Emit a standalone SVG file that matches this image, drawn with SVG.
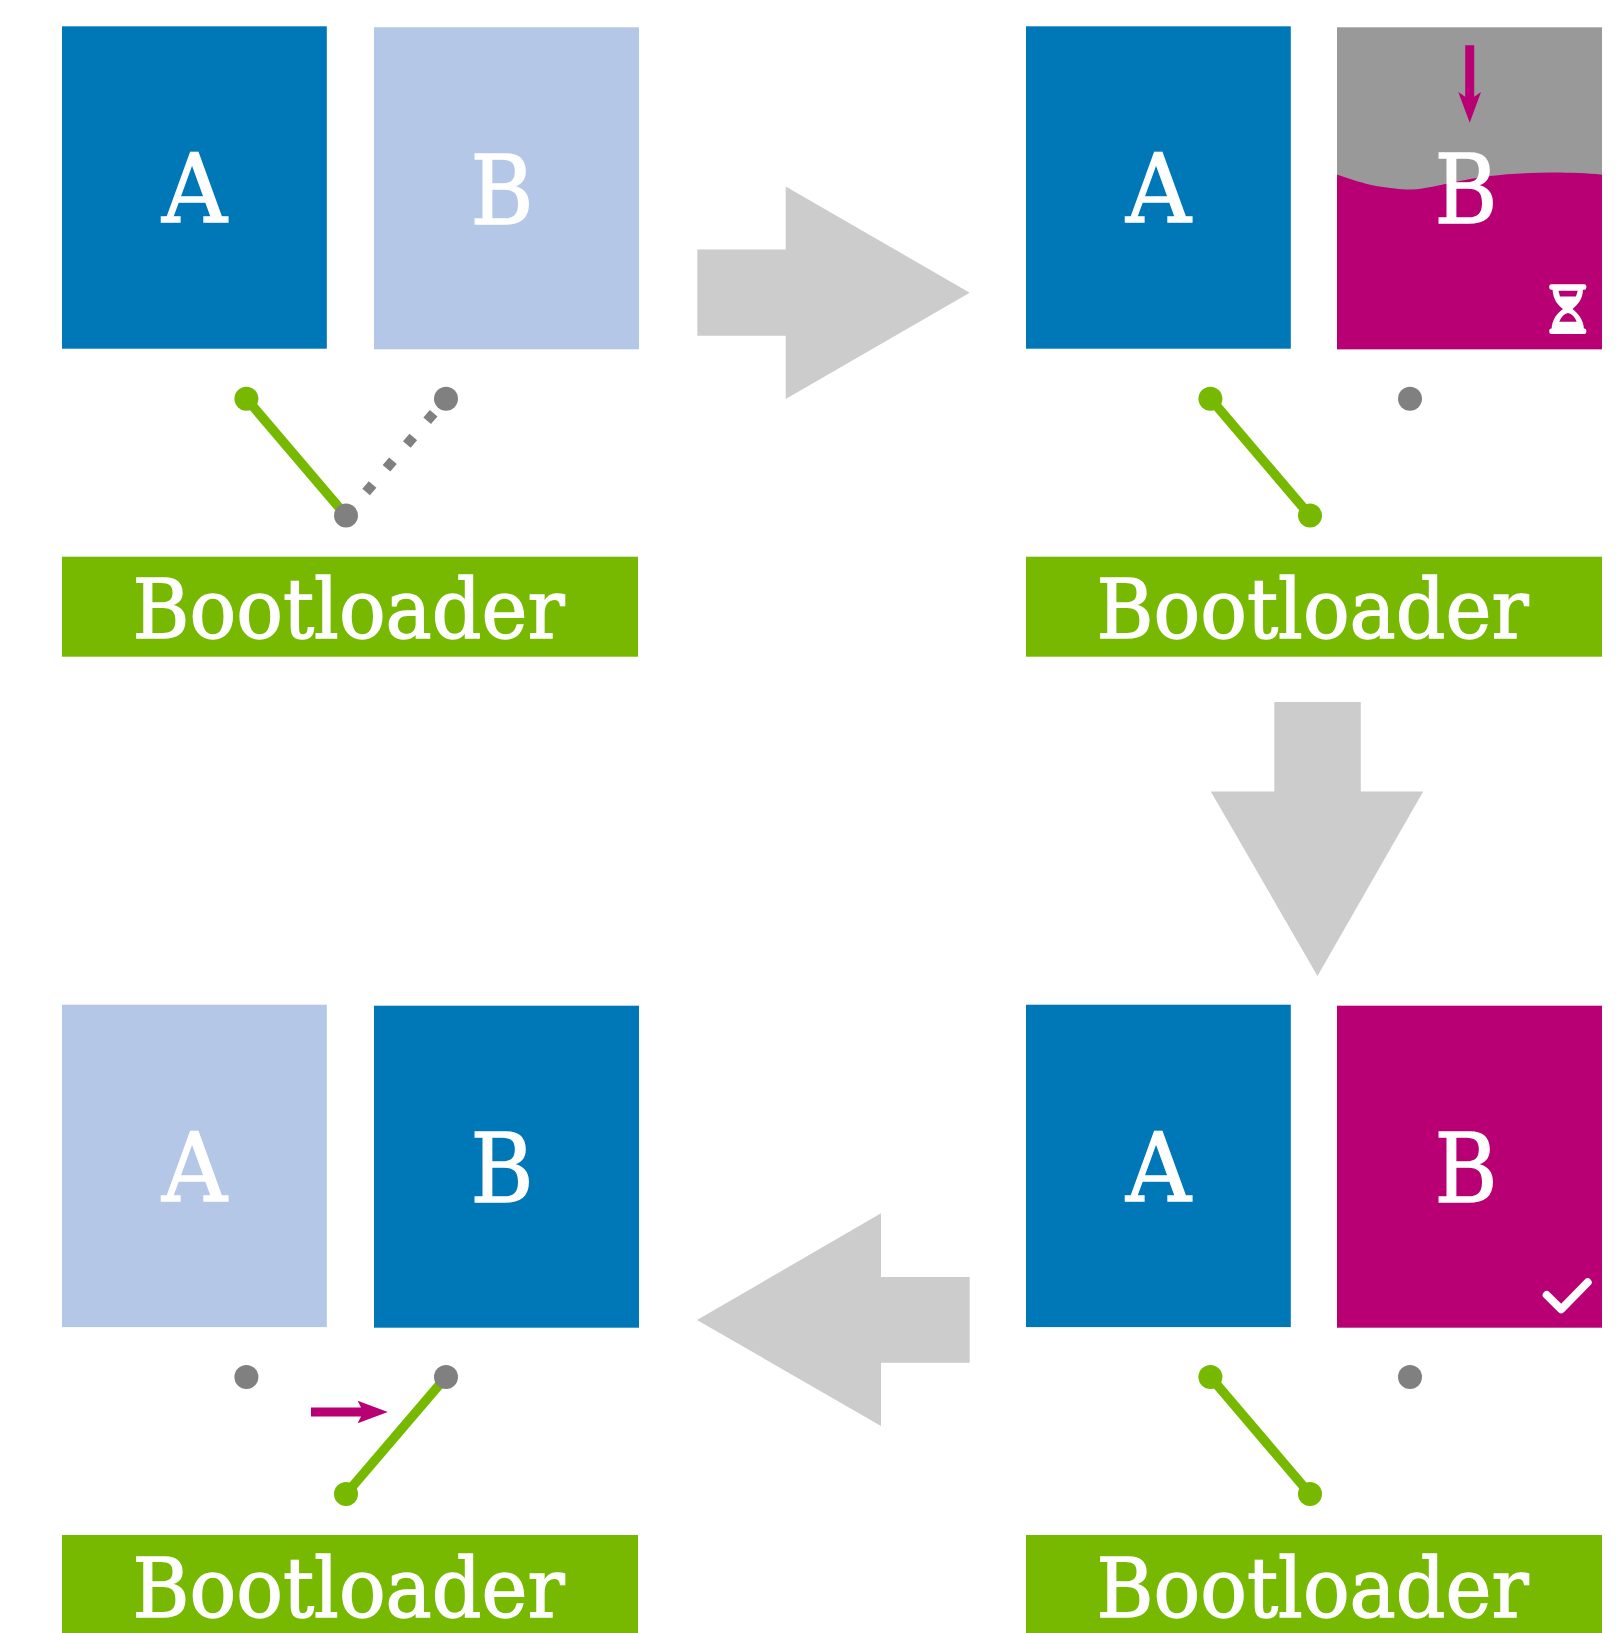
<svg xmlns="http://www.w3.org/2000/svg" width="1623" height="1633" viewBox="0 0 1623 1633">
<style>
.blue{fill:#0078B8}.light{fill:#B4C7E7}.mag{fill:#B80074}.green{fill:#76B900}.gray{fill:#808080}.big{fill:#CCCCCC}
text{font-family:"DejaVu Serif","Liberation Serif",serif;fill:#fff;stroke:#fff;stroke-width:1.4px}
.l{font-size:95px;text-anchor:middle}
.bl{font-size:82px;text-anchor:middle}
.sw{stroke:#76B900;stroke-width:9.5;fill:none}
.dot{stroke:#808080;stroke-width:10;stroke-dasharray:10 21.3;fill:none}
</style>
<rect width="1623" height="1633" fill="#fff"/>
<g id="panel-1">
<g id="p1-a"><rect class="blue" x="62" y="26.3" width="264.8" height="322.4"/><text class="l" x="194.500" y="222.3" textLength="65" lengthAdjust="spacingAndGlyphs">A</text></g>
<g id="p1-b"><rect class="light" x="374" y="27.3" width="265" height="322"/><text class="l" x="502" y="223.6" textLength="63" lengthAdjust="spacingAndGlyphs">B</text></g>
<g id="p1-boot"><rect class="green" x="62" y="556.7" width="576" height="100"/><text class="bl" x="348.500" y="638.4" textLength="432" lengthAdjust="spacingAndGlyphs">Bootloader</text></g>
</g>
<g id="panel-2">
<g id="p2-a"><rect class="blue" x="1026" y="26.3" width="264.8" height="322.4"/><text class="l" x="1158.500" y="222.3" textLength="65" lengthAdjust="spacingAndGlyphs">A</text></g>
<g id="p2-b"><rect fill="#999999" x="1337" y="27.3" width="265" height="322"/><path class="mag" d="M1337 174.7C1352 179 1368 187 1406 189.500C1430 190 1450 181 1490 176C1520 172 1570 171.500 1602 174.700V349.300H1337Z"/><text class="l" x="1466" y="222.7" textLength="63" lengthAdjust="spacingAndGlyphs">B</text>
<path class="mag" d="M1465.200 45.300H1474.200V96.700L1481 92L1469.700 122.700L1458.300 92L1465.200 96.700Z"/>
<g fill="#fff"><rect x="1549.300" y="284.300" width="37" height="5.500" rx="2"/><rect x="1549.300" y="328.500" width="37" height="5.500" rx="2"/><path fill-rule="evenodd" d="M1552.500 289C1553 300 1558 305 1563 309C1558 313 1552 318 1551.500 330H1584C1583.500 318 1577 313 1572.500 309C1577 305 1583 300 1583 289ZM1558.500 290.700H1577.700L1576 296.500H1560ZM1559.300 321.700C1561 317 1564 314 1568 313C1572 314 1575 317 1576.700 321.700Z"/></g></g>
<g id="p2-boot"><rect class="green" x="1026" y="556.7" width="576" height="100"/><text class="bl" x="1312.500" y="638.4" textLength="432" lengthAdjust="spacingAndGlyphs">Bootloader</text></g>
</g>
<g id="panel-3">
<g id="p3-a"><rect class="blue" x="1026" y="1004.7" width="264.8" height="322.4"/><text class="l" x="1158.500" y="1200.7" textLength="65" lengthAdjust="spacingAndGlyphs">A</text></g>
<g id="p3-b"><rect class="mag" x="1337" y="1005.7" width="265" height="322"/><text class="l" x="1466" y="1202" textLength="63" lengthAdjust="spacingAndGlyphs">B</text><polyline points="1546.700,1295 1561.300,1309.300 1587.700,1282.300" fill="none" stroke="#fff" stroke-width="8" stroke-linecap="round" stroke-linejoin="round"/></g>
<g id="p3-boot"><rect class="green" x="1026" y="1535" width="576" height="100"/><text class="bl" x="1312.500" y="1616.800" textLength="432" lengthAdjust="spacingAndGlyphs">Bootloader</text></g>
</g>
<g id="panel-4">
<g id="p4-a"><rect class="light" x="62" y="1004.7" width="264.8" height="322.4"/><text class="l" x="194.500" y="1200.7" textLength="65" lengthAdjust="spacingAndGlyphs">A</text></g>
<g id="p4-b"><rect class="blue" x="374" y="1005.7" width="265" height="322"/><text class="l" x="502" y="1202" textLength="63" lengthAdjust="spacingAndGlyphs">B</text></g>
<g id="p4-boot"><rect class="green" x="62" y="1535" width="576" height="100"/><text class="bl" x="348.500" y="1616.800" textLength="432" lengthAdjust="spacingAndGlyphs">Bootloader</text></g>
<path id="p4-arrow" class="mag" d="M311 1407.500H361L357.700 1400.700L387.800 1412L357.700 1423.300L361 1416.500H311Z"/>
</g>
<g id="connectors">
<g id="big-arrows">
<polygon class="big" points="697.300,249.500 785.700,249.500 785.700,186.400 969.700,292.700 785.700,399 785.700,335.700 697.300,335.700"/>
<polygon class="big" points="1274.300,702 1360.800,702 1360.800,791.600 1423.200,791.600 1317.500,976 1210.800,791.600 1274.300,791.600"/>
<polygon class="big" points="969.700,1277 881,1277 881,1213.300 697,1320 881,1426 881,1362.800 969.700,1362.800"/>
</g>
<g id="switch-1"><line class="sw" x1="246.400" y1="398.700" x2="346" y2="515.600"/><line class="dot" x1="433.650" y1="413.140" x2="364.750" y2="493.700"/><circle class="green" cx="246.400" cy="398.700" r="12"/><circle class="gray" cx="446" cy="398.700" r="12"/><circle class="gray" cx="346" cy="515.600" r="12"/></g>
<g id="switch-2"><line class="sw" x1="1210.400" y1="398.700" x2="1310" y2="515.600"/><circle class="green" cx="1210.400" cy="398.700" r="12"/><circle class="gray" cx="1410" cy="398.700" r="12"/><circle class="green" cx="1310" cy="515.600" r="12"/></g>
<g id="switch-3"><line class="sw" x1="1210.400" y1="1377" x2="1310" y2="1494"/><circle class="green" cx="1210.400" cy="1377" r="12"/><circle class="gray" cx="1410" cy="1377" r="12"/><circle class="green" cx="1310" cy="1494" r="12"/></g>
<g id="switch-4"><line class="sw" x1="446" y1="1377" x2="346" y2="1494"/><circle class="gray" cx="246.400" cy="1377" r="12"/><circle class="gray" cx="446" cy="1377" r="12"/><circle class="green" cx="346" cy="1494" r="12"/></g>
</g>
</svg>
